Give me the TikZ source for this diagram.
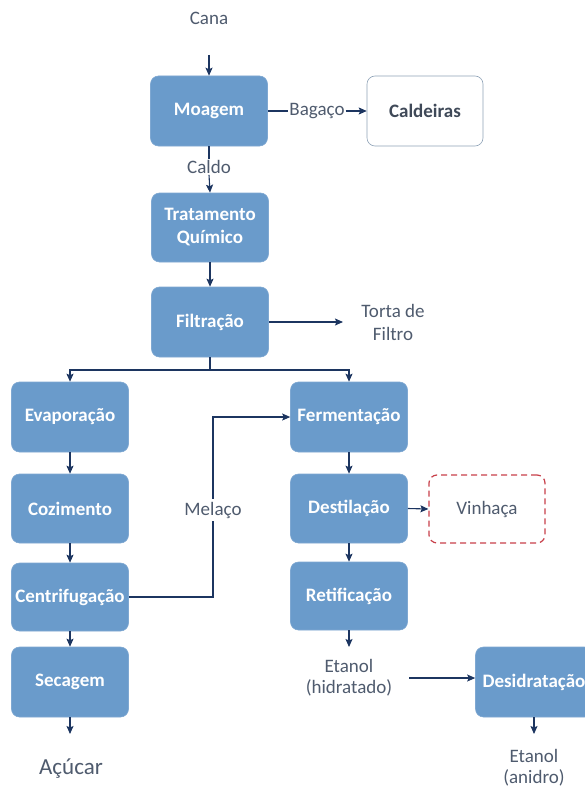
\documentclass[tikz,border=0pt]{standalone}
\usepackage{fontspec}
\setmainfont{Carlito}
\usetikzlibrary{arrows.meta}
\definecolor{boxfill}{HTML}{6A9BCB}
\definecolor{boxline}{HTML}{7FA8D2}
\definecolor{arrowc}{HTML}{1C3560}
\definecolor{labc}{HTML}{4F5B6E}
\definecolor{vinred}{HTML}{C8404A}
\definecolor{caldline}{HTML}{8FA3B8}
\begin{document}
\begin{tikzpicture}[x=1pt,y=-1pt,
  font=\fontsize{19}{23}\selectfont,
  procbox/.style={rectangle, rounded corners=8pt, fill=boxfill, draw=boxline, line width=0.6pt,
    minimum width=117pt, minimum height=70pt, text=white, font=\fontsize{19}{23}\selectfont\bfseries, align=center, inner sep=1pt},
  lab/.style={text=labc, align=center, inner sep=1pt},
  conn/.style={draw=arrowc, line width=1.1pt},
  arr/.style={conn, -{Stealth[length=8pt,width=7pt,inset=1.5pt]}}
]
\useasboundingbox (0,0) rectangle (584,789);
\fill[white] (0,0) rectangle (584,789);

% top chain
\node[lab] (cana) at (209,18) {Cana};
\coordinate (canaout) at (209,55);
\node[procbox] (moagem) at (209,111) {Moagem};
\node[procbox, fill=white, draw=caldline, text=labc!80!black, minimum width=116pt] (caldeiras) at (425,111) {Caldeiras};
\node[lab] (bagaco) at (317,111) {Bagaço};
\node[lab] (caldo) at (209,167) {Caldo};
\node[procbox, minimum height=69pt] (trat) at (210,227.5) {Tratamento\\Químico};
\node[procbox] (filt) at (210,322) {Filtração};
\node[lab] (torta) at (393,322) {Torta de\\Filtro};
\coordinate (tortain) at (343,322);
\coordinate (split) at (210,370);

% left column
\node[procbox] (evap) at (70,417) {Evaporação};
\node[procbox, minimum height=69pt] (coz) at (70,508.5) {Cozimento};
\node[procbox, minimum height=68pt] (centr) at (70,597) {Centrifugação};
\node[procbox] (sec) at (70,682) {Secagem};
\coordinate (secout) at (70,734);
\node[lab, font=\fontsize{23}{27}\selectfont] (acucar) at (71,769) {Açúcar};

% right column
\node[procbox] (ferm) at (349,417) {Fermentação};
\node[procbox, minimum height=69pt] (dest) at (349,508.5) {Destilação};
\node[rectangle, rounded corners=8pt, draw=vinred, dash pattern=on 6pt off 4pt, line width=1.2pt, minimum width=116pt, minimum height=68pt, text=labc] (vinhaca) at (487,509) {Vinhaça};
\node[procbox, minimum height=68pt] (retif) at (349,596) {Retificação};
\coordinate (retifout) at (349,647);
\node[lab, font=\fontsize{19}{21}\selectfont] (etanolh) at (349,678) {Etanol\\(hidratado)};
\coordinate (etanolhout) at (409,678);
\node[procbox] (desid) at (534,682) {Desidratação};
\coordinate (desidout) at (534,734);
\node[lab, font=\fontsize{19}{21}\selectfont] (etanola) at (534,768) {Etanol\\(anidro)};

% connectors
\draw[arr] (canaout) -- (moagem.north);
\draw[conn] (moagem.east) -- (bagaco.west);
\draw[arr] (bagaco.east) -- (caldeiras.west);
\draw[conn] (moagem.south) -- (caldo.north);
\draw[arr] (caldo.south) -- (trat.north);
\draw[arr] (trat.south) -- (filt.north);
\draw[arr] (filt.east) -- (tortain);
\draw[conn] (filt.south) -- (split);
\draw[arr] (split) -| (evap.north);
\draw[arr] (split) -| (ferm.north);
\draw[arr] (evap.south) -- (coz.north);
\draw[arr] (coz.south) -- (centr.north);
\draw[arr] (centr.south) -- (sec.north);
\draw[arr] (sec.south) -- (secout);
\draw[arr] (centr.east) -- (213,597) |- (ferm.west);
\node[lab, fill=white, inner sep=3pt] (melaco) at (213,510) {Melaço};
\draw[arr] (ferm.south) -- (dest.north);
\draw[arr] (dest.east) -- (vinhaca.west);
\draw[arr] (dest.south) -- (retif.north);
\draw[arr] (retif.south) -- (retifout);
\draw[arr] (etanolhout) -- (desid.west |- etanolhout);
\draw[arr] (desid.south) -- (desidout);
\end{tikzpicture}
\end{document}
